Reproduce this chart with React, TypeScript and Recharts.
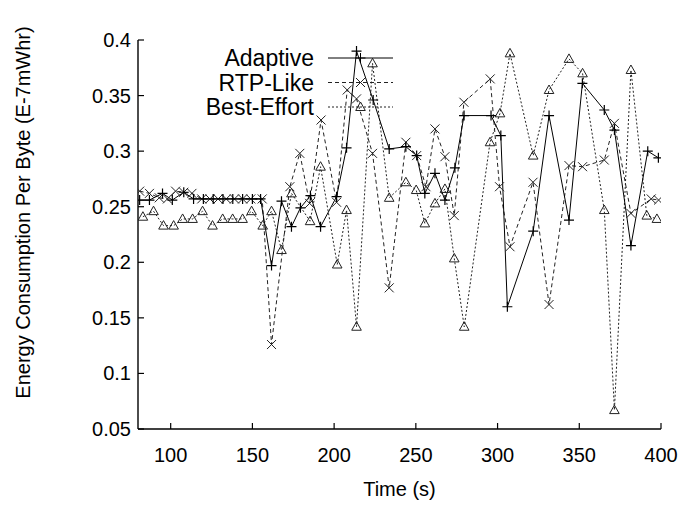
import React from 'react';
import { LineChart, Line, XAxis, YAxis, Legend } from 'recharts';

const FONT = '"Liberation Sans", Arial, Helvetica, sans-serif';

const xTicks = [100, 150, 200, 250, 300, 350, 400];
const yTicks = [0.05, 0.1, 0.15, 0.2, 0.25, 0.3, 0.35, 0.4];
const seriesNames = ['Adaptive', 'RTP-Like', 'Best-Effort'];
const xTitle = 'Time (s)';
const yTitle = 'Energy Consumption Per Byte (E-7mWhr)';

const adaptiveTime = [81, 87, 95, 101, 108, 114, 120, 126, 132, 138, 144, 150, 155, 161.7, 167.8, 173.9, 179.4, 185.5, 191.7, 201.5, 207.6, 213.7, 223.9, 233.7, 243.9, 250.5, 255.5, 261.7, 267.8, 273.9, 279.5, 296, 302, 306, 321.8, 331.5, 343.7, 351.9, 365.3, 371.5, 381.6, 391.9, 398.4];
const adaptiveEnergy = [0.256, 0.256, 0.262, 0.256, 0.263, 0.257, 0.257, 0.257, 0.257, 0.257, 0.257, 0.257, 0.257, 0.197, 0.255, 0.232, 0.249, 0.26, 0.232, 0.259, 0.303, 0.39, 0.346, 0.302, 0.304, 0.296, 0.262, 0.28, 0.256, 0.285, 0.332, 0.332, 0.314, 0.16, 0.228, 0.332, 0.238, 0.361, 0.337, 0.319, 0.215, 0.3, 0.294];

const rtpTime = [81, 87, 93, 98, 103, 108, 113, 119, 124, 129, 134, 139, 144, 149, 156, 161.7, 172.9, 179, 185, 192, 201.5, 208, 213.7, 223.5, 233.7, 243.9, 250.5, 256.2, 261.7, 267.8, 273.5, 279.4, 295.5, 301.2, 307.6, 321.7, 331.5, 343.7, 352, 365.3, 371.5, 381.6, 394, 398.5];
const rtpEnergy = [0.264, 0.262, 0.258, 0.257, 0.264, 0.263, 0.262, 0.257, 0.257, 0.257, 0.257, 0.257, 0.257, 0.257, 0.257, 0.126, 0.268, 0.298, 0.253, 0.328, 0.254, 0.355, 0.347, 0.298, 0.177, 0.308, 0.296, 0.268, 0.32, 0.295, 0.242, 0.344, 0.365, 0.268, 0.214, 0.272, 0.162, 0.287, 0.286, 0.292, 0.325, 0.244, 0.257, 0.256];

const bestTime = [83, 89.5, 95.6, 101.8, 107.3, 113.4, 119.5, 125.6, 131.8, 137.9, 144, 149.5, 156.3, 161.7, 167.8, 173.9, 185.3, 191.7, 201.9, 207.6, 213.7, 223.5, 233.7, 243.9, 250.2, 255.5, 261.7, 267.8, 273.5, 279.6, 295.4, 301.5, 307.6, 321.8, 331.5, 343.7, 352, 365.3, 371.5, 381.6, 391.3, 397.5];
const bestEnergy = [0.241, 0.246, 0.233, 0.233, 0.239, 0.239, 0.246, 0.233, 0.239, 0.239, 0.239, 0.246, 0.233, 0.246, 0.211, 0.262, 0.237, 0.286, 0.198, 0.247, 0.142, 0.379, 0.258, 0.272, 0.265, 0.235, 0.253, 0.266, 0.2035, 0.142, 0.308, 0.334, 0.388, 0.296, 0.355, 0.383, 0.37, 0.247, 0.067, 0.373, 0.242, 0.239];

const toPoints = (xs: number[], ys: number[]) => xs.map((x, i) => ({ x, y: ys[i] }));
const adaptiveData = toPoints(adaptiveTime, adaptiveEnergy);
const rtpData = toPoints(rtpTime, rtpEnergy);
const bestData = toPoints(bestTime, bestEnergy);

const plusPath = (cx: number, cy: number) => `M${cx - 5},${cy}H${cx + 5}M${cx},${cy - 5}V${cy + 5}`;
const crossPath = (cx: number, cy: number) => `M${cx - 4.5},${cy - 4.5}L${cx + 4.5},${cy + 4.5}M${cx - 4.5},${cy + 4.5}L${cx + 4.5},${cy - 4.5}`;
const triPath = (cx: number, cy: number) => `M${cx},${cy - 5}L${cx + 4.8},${cy + 3.5}L${cx - 4.8},${cy + 3.5}Z`;

const renderPlus = (p: any) => p.cx == null ? <g key={`a${p.index}`} /> : <path key={`a${p.index}`} d={plusPath(p.cx, p.cy)} stroke="#000" strokeWidth={1.2} fill="none" />;
const renderCross = (p: any) => p.cx == null ? <g key={`r${p.index}`} /> : <path key={`r${p.index}`} d={crossPath(p.cx, p.cy)} stroke="#222" strokeWidth={1} fill="none" />;
const renderTri = (p: any) => p.cx == null ? <g key={`b${p.index}`} /> : <path key={`b${p.index}`} d={triPath(p.cx, p.cy)} stroke="#222" strokeWidth={1} fill="none" />;

const BottomTick = (p: any) => (
  <g>
    <line x1={p.x} y1={p.y} x2={p.x} y2={p.y - 6} stroke="#000" strokeWidth={1.2} />
    <text x={p.x} y={p.y + 33} textAnchor="middle" fontSize={20} fontFamily={FONT} fill="#000">{p.payload.value}</text>
  </g>
);
const TopTick = (p: any) => (
  <line x1={p.x} y1={p.y} x2={p.x} y2={p.y + 6} stroke="#000" strokeWidth={1.2} />
);
const LeftTick = (p: any) => (
  <g>
    <line x1={p.x} y1={p.y} x2={p.x + 6} y2={p.y} stroke="#000" strokeWidth={1.2} />
    <text x={p.x - 7} y={p.y + 7} textAnchor="end" fontSize={20} fontFamily={FONT} fill="#000">{p.payload.value}</text>
  </g>
);
const RightTick = (p: any) => (
  <line x1={p.x} y1={p.y} x2={p.x - 6} y2={p.y} stroke="#000" strokeWidth={1.2} />
);

const YTitle = (p: any) => {
  const vb = p.viewBox || { x: 0, y: 40, height: 389 };
  const cx = vb.x + 30;
  const cy = vb.y + vb.height / 2 - 22;
  return (
    <text x={cx} y={cy} transform={`rotate(-90 ${cx} ${cy})`} textAnchor="middle" fontSize={20} fontFamily={FONT} fill="#000">{yTitle}</text>
  );
};
const XTitle = (p: any) => {
  const vb = p.viewBox || { x: 138, y: 429, width: 523 };
  const cx = vb.x + vb.width / 2;
  return (
    <text x={cx} y={vb.y + 67} textAnchor="middle" fontSize={20} fontFamily={FONT} fill="#000">{xTitle}</text>
  );
};

const styles = [
  { dash: undefined as string | undefined, color: '#000', marker: plusPath },
  { dash: '4 3', color: '#222', marker: crossPath },
  { dash: '2 2', color: '#222', marker: triPath },
];

const LegendBox = () => (
  <svg width={230} height={80} style={{ display: 'block', overflow: 'visible' }}>
    {seriesNames.map((name, i) => {
      const cy = 18 + i * 24.5;
      const s = styles[i];
      return (
        <g key={name}>
          <text x={124} y={cy + 8} textAnchor="end" fontSize={23} fontFamily={FONT} fill="#000">{name}</text>
          <line x1={138} y1={cy} x2={203} y2={cy} stroke={s.color} strokeWidth={1} strokeDasharray={s.dash} />
          <path d={s.marker(170.5, cy)} stroke={s.color} strokeWidth={1} fill="none" />
        </g>
      );
    })}
  </svg>
);

export default function App() {
  return (
    <div style={{ position: 'absolute', left: 0, top: 0 }}>
      <LineChart width={686} height={510} margin={{ top: 40, right: 25, bottom: 31, left: 0 }}>
        <XAxis
          type="number" dataKey="x" domain={[80, 400]} ticks={xTicks} interval={0}
          allowDataOverflow height={50} tickSize={0} tickMargin={0} tickLine={false}
          axisLine={{ stroke: '#000', strokeWidth: 1.4 }} tick={BottomTick} label={<XTitle />}
        />
        <XAxis
          xAxisId="top" orientation="top" type="number" dataKey="x" domain={[80, 400]} ticks={xTicks}
          interval={0} allowDataOverflow height={0} tickSize={0} tickMargin={0} tickLine={false}
          axisLine={{ stroke: '#000', strokeWidth: 1.4 }} tick={TopTick}
        />
        <YAxis
          type="number" domain={[0.05, 0.4]} ticks={yTicks} interval={0} allowDataOverflow width={138}
          tickSize={0} tickMargin={0} tickLine={false}
          axisLine={{ stroke: '#000', strokeWidth: 1.4 }} tick={LeftTick} label={<YTitle />}
        />
        <YAxis
          yAxisId="right" orientation="right" type="number" domain={[0.05, 0.4]} ticks={yTicks} interval={0}
          allowDataOverflow width={0} tickSize={0} tickMargin={0} tickLine={false}
          axisLine={{ stroke: '#000', strokeWidth: 1.4 }} tick={RightTick}
        />
        <Legend
          content={() => <LegendBox />}
          layout="horizontal" verticalAlign="middle" align="center"
          wrapperStyle={{ position: 'absolute', left: 190, top: 40, width: 230, height: 80 }}
        />
        <Line data={bestData} dataKey="y" name={seriesNames[2]} type="linear" stroke="#222" strokeWidth={1}
          strokeDasharray="2 2" dot={renderTri} activeDot={false} isAnimationActive={false} />
        <Line data={rtpData} dataKey="y" name={seriesNames[1]} type="linear" stroke="#222" strokeWidth={1}
          strokeDasharray="4 3" dot={renderCross} activeDot={false} isAnimationActive={false} />
        <Line data={adaptiveData} dataKey="y" name={seriesNames[0]} type="linear" stroke="#000" strokeWidth={1}
          dot={renderPlus} activeDot={false} isAnimationActive={false} />
      </LineChart>
    </div>
  );
}
